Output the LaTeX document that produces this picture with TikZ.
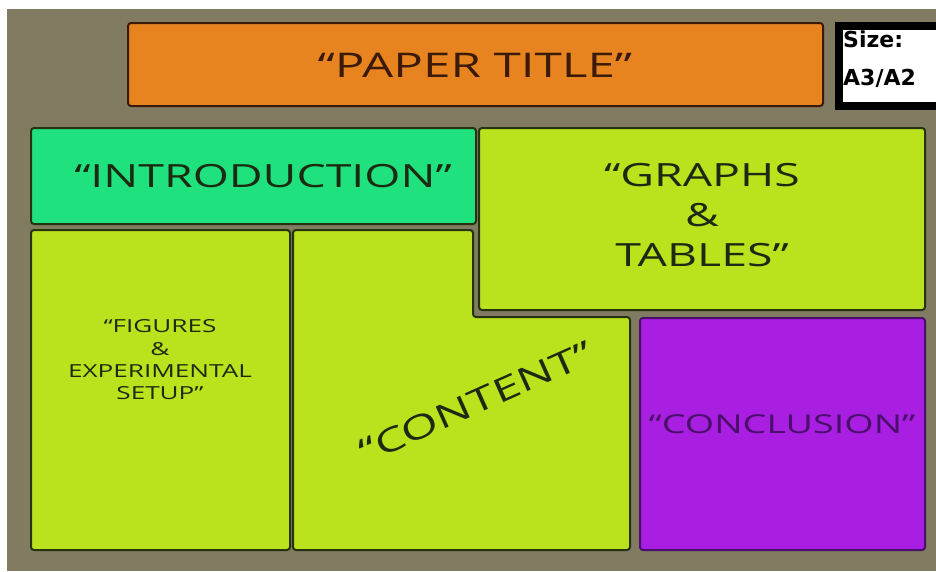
\documentclass[tikz,border=0pt]{standalone}
\usepackage{fontspec}
\setmainfont{Open Sans}
\newfontfamily\handfont[FakeStretch=1.45]{Open Sans}
\newfontfamily\sizefont{DejaVu Sans}
\definecolor{boardgray}{HTML}{807B61}
\definecolor{titleorange}{HTML}{E8841F}
\definecolor{introgreen}{HTML}{1FE27F}
\definecolor{panellime}{HTML}{BAE31E}
\definecolor{conclpurple}{HTML}{A91FE2}
\definecolor{panelline}{HTML}{26330F}
\definecolor{inkgreen}{HTML}{1C2A12}
\definecolor{inkbrown}{HTML}{3B1A08}
\definecolor{inkpurple}{HTML}{4A0F6A}

\begin{document}
\begin{tikzpicture}[x=1pt,y=-1pt]
        \tikzstyle{panel}=[rectangle,draw=panelline,line width=2pt,rounded corners=3pt,fill=panellime,inner sep=0pt]
        \tikzstyle{hand}=[text=inkgreen,inner sep=0pt]
          \useasboundingbox (0,0) rectangle (936,571);
          \fill [white] (0,0) rectangle (936,571);
          \fill [boardgray] (7,9) rectangle (936,571);
          \node (title) at (475.5,64.5) [panel,fill=titleorange,draw=inkbrown,minimum width=695pt,minimum height=83pt] {};
          \node (sizebox) at (892,66) [rectangle,draw=black,line width=8pt,fill=white,minimum width=106pt,minimum height=80pt] {};
          \node (intro) at (253.5,176) [panel,fill=introgreen,minimum width=445pt,minimum height=96pt] {};
          \node (graphs) at (702,219) [panel,minimum width=446pt,minimum height=182pt] {};
          \node (figures) at (160.5,390) [panel,minimum width=259pt,minimum height=320pt] {};
          \node (conclusion) at (782.5,434) [panel,fill=conclpurple,draw=inkpurple,minimum width=285pt,minimum height=232pt] {};
          \draw [panelline,fill=panellime,line width=2pt,rounded corners=3pt] (293,230) -- (473,230) -- (473,317) -- (630,317) -- (630,550) -- (293,550) -- cycle;
          \node (titletext) at (475,77) [hand,anchor=base,text=inkbrown,font=\handfont\fontsize{34}{40}\selectfont] {“PAPER TITLE”};
          \node (sizeword) at (843,47) [anchor=base west,inner sep=0pt,font=\sizefont\bfseries\fontsize{22}{26}\selectfont] {Size:};
          \node (sizevalue) at (843,85) [anchor=base west,inner sep=0pt,font=\sizefont\bfseries\fontsize{22}{26}\selectfont] {A3/A2};
          \node (introtext) at (263,187) [hand,anchor=base,font=\handfont\fontsize{32}{40}\selectfont] {“INTRODUCTION”};
          \node (graphstext) at (702,215.5) [hand,align=center,font=\handfont\fontsize{32}{40}\selectfont] {“GRAPHS\\\&\\TABLES”};
          \node (figurestext) at (160,360) [hand,align=center,font=\handfont\fontsize{18}{22.3}\selectfont] {“FIGURES\\\&\\EXPERIMENTAL\\SETUP”};
          \node (contenttext) at (476,402) [hand,rotate=24,font=\handfont\fontsize{33}{40}\selectfont] {“CONTENT”};
          \node (conclusiontext) at (782,433) [hand,anchor=base,text=inkpurple,font=\handfont\fontsize{26}{30}\selectfont] {“CONCLUSION”};
      \end{tikzpicture}
\end{document}
